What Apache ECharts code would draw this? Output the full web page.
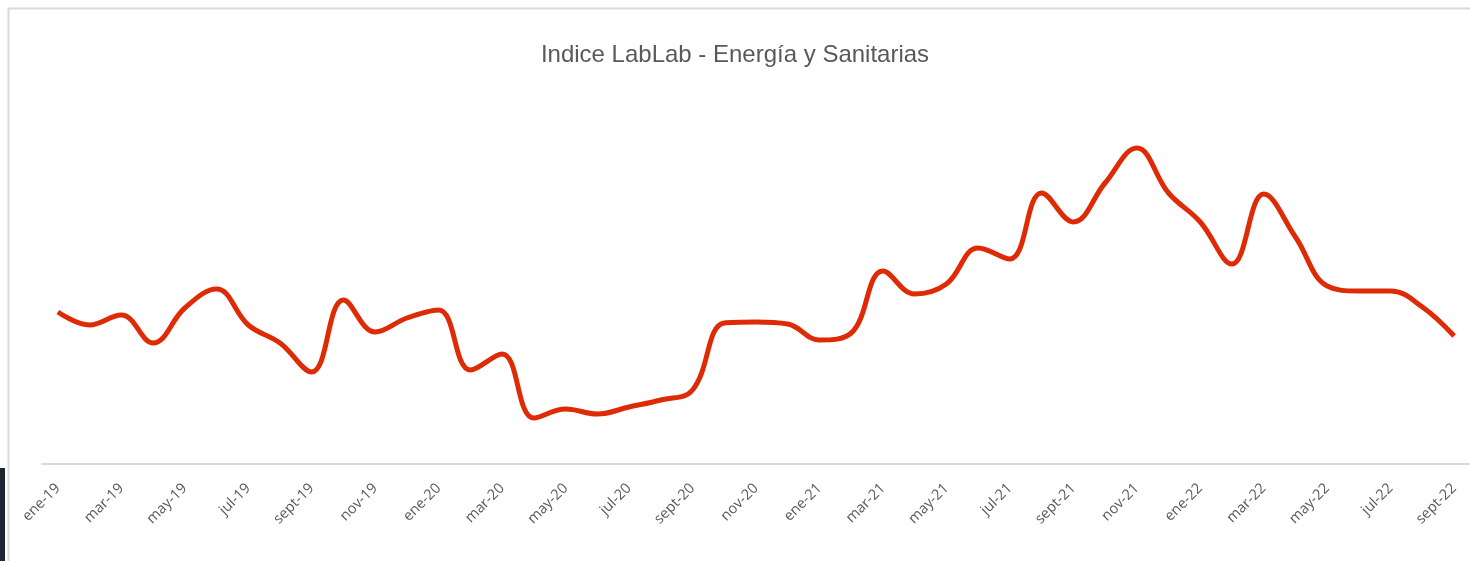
<!DOCTYPE html>
<html>
<head>
<meta charset="utf-8">
<script src="https://cdn.jsdelivr.net/npm/echarts@6/dist/echarts.min.js"></script>
<style>
  html, body { margin: 0; padding: 0; background: #fff; }
  #main { width: 1470px; height: 561px; }
</style>
</head>
<body>
<div id="main"></div>
<script>
// meses (ene-19 .. sept-22)
var months = ['ene', 'feb', 'mar', 'abr', 'may', 'jun', 'jul', 'ago', 'sept', 'oct', 'nov', 'dic']
var years = ['19', '20', '21', '22']
var categories = []
for (var y = 0; y < years.length; y++) {
  for (var m = 0; m < months.length; m++) {
    if (years[y] == '22' && m > 8) break
    categories.push(months[m] + '-' + years[y])
  }
}

// valores (escala relativa, sin eje Y visible)
var indice = [
  38, 34.75, 37.25, 30.25, 39, 43.75, 34.75, 30.25, 23, 41, 33, 36.5,
  38.5, 23.5, 27.5, 11.5, 13.75, 12.5, 14.25, 16, 18.5, 35.25, 35.5, 35,
  31, 32.75, 48.25, 42.5, 45, 54, 51.25, 67.75, 60.5, 70.25, 79, 67.75,
  60.5, 50, 67.5, 56.75, 44.5, 43.25, 43.25, 39.25, 32
]

var myChart = echarts.init(document.getElementById('main'))
myChart.setOption({
  backgroundColor: '#fff',
  animation: false,
  title: {
    text: 'Indice LabLab - Energía y Sanitarias',
    left: 'center',
    top: 38,
    textStyle: {
      fontFamily: 'Liberation Sans',
      fontSize: 24,
      fontWeight: 'normal',
      color: '#595959'
    }
  },
  graphic: [
    {
      type: 'rect',
      shape: { x: 8.5, y: 8.5, width: 1480, height: 600 },
      style: { fill: null, stroke: '#d9d9d9', lineWidth: 2 },
      z: -1
    },
    {
      type: 'rect',
      shape: { x: 0, y: 468, width: 5, height: 93 },
      style: { fill: '#1e2533' }
    }
  ],
  grid: { left: 42, right: -2, top: 64, bottom: 97 },
  xAxis: {
    type: 'category',
    data: categories,
    boundaryGap: true,
    axisLine: { lineStyle: { color: '#d9d9d9', width: 2 } },
    axisTick: { show: false },
    axisLabel: {
      interval: 1,
      rotate: 45,
      margin: 22,
      fontFamily: 'Open Sans',
      fontSize: 14.5,
      color: '#595959'
    }
  },
  yAxis: {
    type: 'value',
    min: 0,
    max: 100,
    show: false,
    splitLine: { show: false }
  },
  series: [{
    name: 'Indice',
    type: 'line',
    data: indice,
    smooth: 0.4,
    showSymbol: false,
    lineStyle: { color: '#df2a06', width: 5 }
  }]
})
</script>
</body>
</html>
